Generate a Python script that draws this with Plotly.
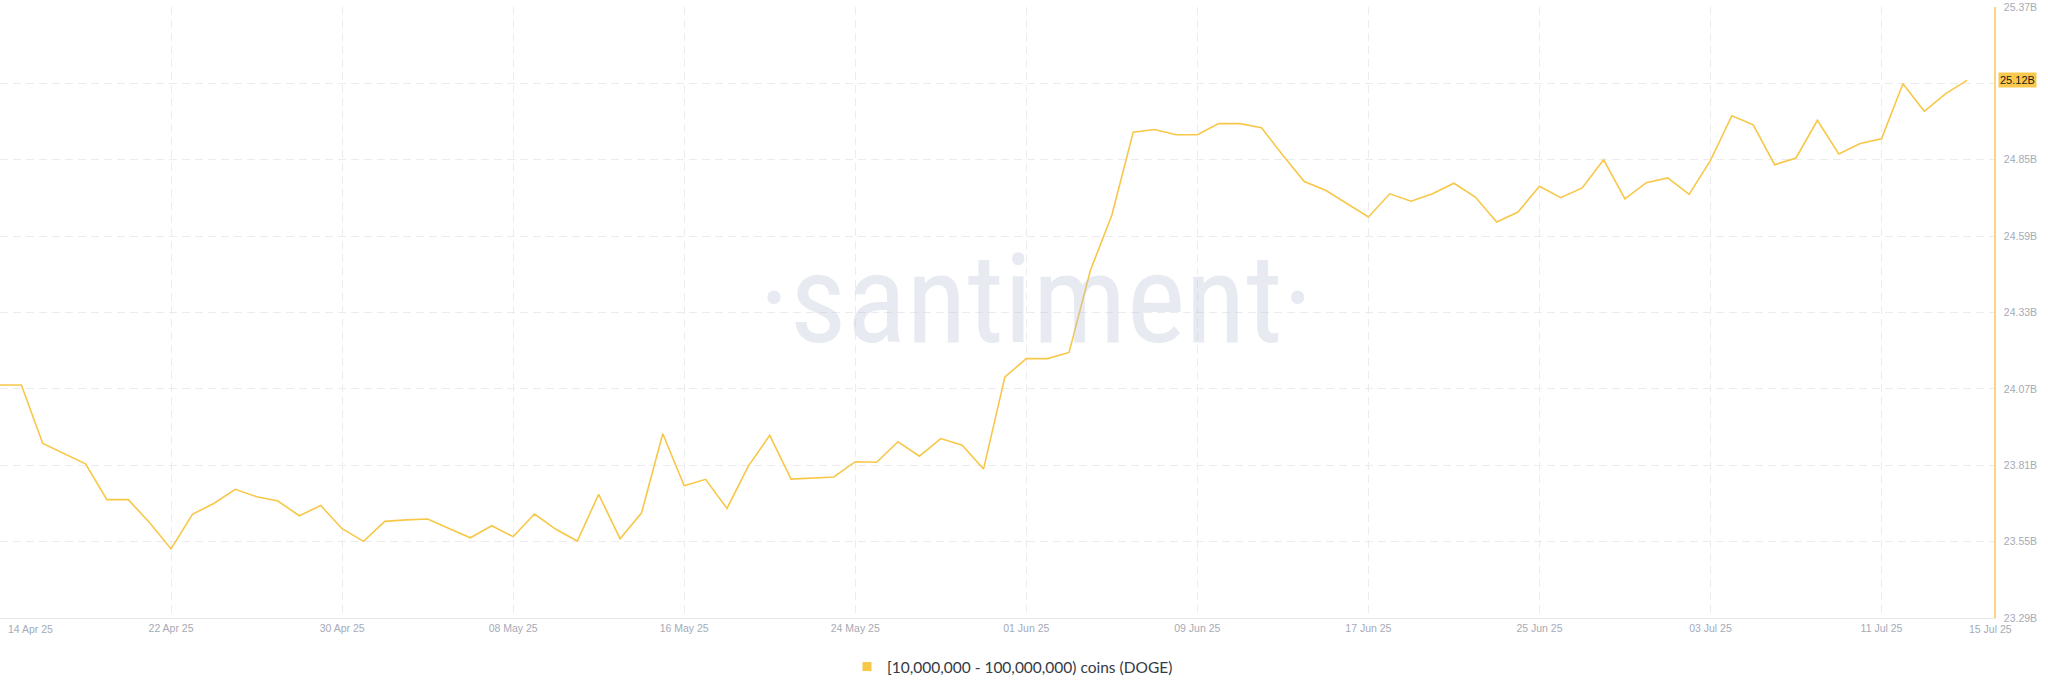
import pandas as pd
import plotly.graph_objects as go

# ---------------- data ----------------
start_date = "2025-04-14"
values_b = [
    24.083, 24.083, 23.884, 23.850, 23.815, 23.693, 23.693, 23.614, 23.525, 23.643,
    23.680, 23.728, 23.703, 23.688, 23.638, 23.673, 23.594, 23.551, 23.619, 23.624,
    23.627, 23.595, 23.563, 23.604, 23.567, 23.644, 23.592, 23.552, 23.711, 23.560,
    23.647, 23.917, 23.740, 23.762, 23.663, 23.807, 23.912, 23.763, 23.767, 23.770,
    23.822, 23.820, 23.890, 23.841, 23.901, 23.878, 23.797, 24.111, 24.173, 24.173,
    24.194, 24.474, 24.661, 24.944, 24.953, 24.935, 24.935, 24.973, 24.973, 24.959,
    24.865, 24.776, 24.746, 24.700, 24.655, 24.734, 24.709, 24.734, 24.770, 24.723,
    24.638, 24.672, 24.760, 24.721, 24.754, 24.850, 24.717, 24.772, 24.788, 24.732,
    24.848, 25.000, 24.969, 24.833, 24.856, 24.984, 24.870, 24.905, 24.921, 25.109,
    25.015, 25.075, 25.120,
]
dates = pd.date_range(start_date, periods=len(values_b), freq="D")

x_tick_dates = ["2025-04-22", "2025-04-30", "2025-05-08", "2025-05-16", "2025-05-24",
                "2025-06-01", "2025-06-09", "2025-06-17", "2025-06-25", "2025-07-03",
                "2025-07-11"]
x_tick_labels = ["22 Apr 25", "30 Apr 25", "08 May 25", "16 May 25", "24 May 25",
                 "01 Jun 25", "09 Jun 25", "17 Jun 25", "25 Jun 25", "03 Jul 25",
                 "11 Jul 25"]
first_date_label = "14 Apr 25"
last_date_label = "15 Jul 25"

y_ticks = [23.29, 23.55, 23.81, 24.07, 24.33, 24.59, 24.85, 25.11, 25.37]
y_tick_labels = ["23.29B", "23.55B", "23.81B", "24.07B", "24.33B", "24.59B",
                 "24.85B", "", "25.37B"]

series_name = "[10,000,000 - 100,000,000) coins (DOGE)"
watermark = "·santiment·"

# ---------------- styles ----------------
LINE = "#f7c748"
TICK_COLOR = "#a5aab6"
GRID = "#ebebf0"
TICK_FONT = dict(family="Liberation Sans, Arial, sans-serif", size=10.5, color=TICK_COLOR)

x_end = pd.Timestamp(start_date) + pd.Timedelta(hours=93.26 * 24)

fig = go.Figure()
fig.add_trace(go.Scatter(
    x=dates, y=values_b, mode="lines",
    line=dict(color=LINE, width=1.6),
    showlegend=False, hoverinfo="skip",
))
# legend entry (square swatch)
fig.add_trace(go.Scatter(
    x=[None], y=[None], mode="markers", name=series_name,
    marker=dict(symbol="square", size=9, color=LINE),
))

fig.update_layout(
    template="none",
    width=2048, height=693,
    margin=dict(l=0, r=54, t=7, b=75, autoexpand=False),
    paper_bgcolor="#ffffff", plot_bgcolor="#ffffff",
    showlegend=True,
    legend=dict(
        orientation="h", x=847 / 1994, xanchor="left",
        yref="container", y=(693 - 667) / 693, yanchor="middle",
        font=dict(family="Lato, Liberation Sans, sans-serif", size=15.5, color="#353a45"),
        itemwidth=30, bgcolor="rgba(0,0,0,0)",
    ),
    xaxis=dict(
        type="date", range=[dates[0], x_end],
        tickvals=x_tick_dates, ticktext=x_tick_labels,
        tickfont=TICK_FONT, ticks="", automargin=False,
        showgrid=True, gridcolor=GRID, griddash="8px,5px", gridwidth=1,
        showline=True, linecolor="#e6e7ec", linewidth=1,
        zeroline=False, fixedrange=True,
    ),
    yaxis=dict(
        side="right", range=[y_ticks[0], y_ticks[-1]],
        tickvals=y_ticks, ticktext=y_tick_labels, automargin=False,
        tickfont=TICK_FONT, ticks="", ticklabelstandoff=6,
        showgrid=True, gridcolor=GRID, griddash="8px,5px", gridwidth=1,
        showline=True, linecolor="#f9d57e", linewidth=1.5,
        zeroline=False, fixedrange=True,
    ),
)

annotations = [
    # watermark
    dict(text=watermark, xref="paper", yref="paper", x=1036 / 1994, y=0.5215,
         xanchor="center", yanchor="middle", showarrow=False,
         font=dict(family="Roboto Condensed, Noto Sans Condensed, Liberation Sans Narrow, DejaVu Sans Condensed, sans-serif",
                   size=125, color="rgba(185,193,212,0.34)")),
    # first / last date labels
    dict(text=first_date_label, xref="paper", yref="paper", x=6 / 1994, y=0,
         xanchor="left", yanchor="top", yshift=-3, showarrow=False, font=TICK_FONT),
    dict(text=last_date_label, xref="paper", yref="paper", x=1990 / 1994, y=0,
         xanchor="center", yanchor="top", yshift=-3, showarrow=False, font=TICK_FONT),
    # last value badge
    dict(text=f"{values_b[-1]:.2f}B", xref="paper", yref="y", x=1, y=values_b[-1],
         xanchor="left", yanchor="middle", xshift=4, showarrow=False,
         bgcolor="#f8c94c", borderpad=1,
         font=dict(family="Liberation Sans, Arial, sans-serif", size=11, color="#1b1b1b")),
]
fig.update_layout(annotations=annotations)

fig.write_html(
    "out.html",
    config={"displayModeBar": False},
    post_script="document.body.style.margin='0';document.body.style.overflow='hidden';",
)
